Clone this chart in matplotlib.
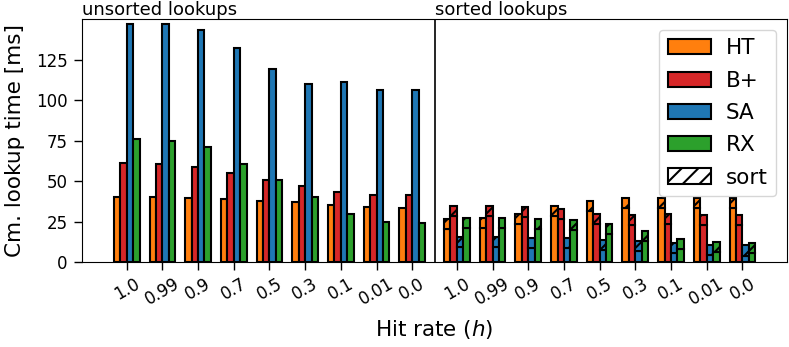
import numpy as np
import matplotlib
matplotlib.use("Agg")
import matplotlib.pyplot as plt
from matplotlib.patches import Patch

hit_rates = ["1.0", "0.99", "0.9", "0.7", "0.5", "0.3", "0.1", "0.01", "0.0"]
methods = ["HT", "B+", "SA", "RX"]
colors = ["#ff7f0e", "#d62728", "#1f77b4", "#2ca02c"]

# unsorted lookups: cumulative lookup time [ms]
unsorted = {
    "HT": [40.2, 40.2, 39.8, 39.0, 37.7, 36.9, 35.0, 34.0, 33.6],
    "B+": [61.3, 60.8, 58.8, 55.0, 50.5, 46.8, 43.1, 41.5, 41.5],
    "SA": [147.0, 147.0, 143.0, 132.2, 119.0, 110.0, 111.2, 106.2, 106.2],
    "RX": [75.7, 74.9, 70.8, 60.8, 50.5, 40.2, 29.9, 25.0, 24.1],
}
# sorted lookups: lookup part and sort part [ms]
sorted_lookup = {
    "HT": [20.6, 21.0, 23.5, 28.3, 31.4, 33.6, 33.4, 33.3, 33.2],
    "B+": [28.5, 28.5, 27.8, 26.8, 23.3, 23.1, 23.7, 23.1, 23.1],
    "SA": [9.3, 9.3, 8.9, 8.5, 7.6, 6.6, 5.8, 4.3, 4.0],
    "RX": [21.0, 21.0, 20.6, 19.6, 17.3, 13.2, 8.3, 6.3, 5.5],
}
sort_time = [6.2, 6.2, 6.2, 6.2, 6.2, 6.2, 6.2, 6.2, 6.2]

plt.rcParams["hatch.linewidth"] = 1.5

fig = plt.figure(figsize=(7.89, 3.47), dpi=100)
ax = fig.add_axes([0.104, 0.245, 0.8935, 0.70])

n = len(hit_rates)
x_uns = np.arange(n)
x_srt = np.arange(n) + n + 0.25
w = 0.18
offsets = (np.arange(4) - 1.5) * w

for m, c, off in zip(methods, colors, offsets):
    ax.bar(x_uns + off, unsorted[m], w, color=c, edgecolor="black", linewidth=1.5)
    ax.bar(x_srt + off, sorted_lookup[m], w, color=c, edgecolor="black", linewidth=1.5)
    ax.bar(x_srt + off, sort_time, w, bottom=sorted_lookup[m], color=c,
           edgecolor="black", linewidth=1.5, hatch="//")

sep = n - 1 + 0.625
ax.axvline(sep, color="black", linewidth=1.2)

ax.set_xlim(-1.25, 2 * n - 1 + 0.25 + 1.25)
ax.set_ylim(0, 150)
ax.set_yticks([0, 25, 50, 75, 100, 125])
ax.set_xticks(np.concatenate([x_uns, x_srt]))
ax.set_xticklabels(hit_rates + hit_rates, rotation=30, ha="center")
ax.tick_params(labelsize=12, length=5.5, width=1.0)
ax.tick_params(axis="y", pad=5)

ax.set_ylabel("Cm. lookup time [ms]", fontsize=15.5, labelpad=8)
ax.set_xlabel("Hit rate ($h$)", fontsize=15.5, labelpad=7)

ax.text(0, 1.0, "unsorted lookups", transform=ax.transAxes, fontsize=13,
        ha="left", va="bottom")
ax.text(sep, 1.0, "sorted lookups", transform=ax.get_xaxis_transform(),
        fontsize=13, ha="left", va="bottom")

handles = [Patch(facecolor=c, edgecolor="black", linewidth=1.5, label=m)
           for m, c in zip(methods, colors)]
handles.append(Patch(facecolor="white", edgecolor="black", linewidth=1.5,
                     hatch="//", label="sort"))
ax.legend(handles=handles, loc="upper right", fontsize=15.5, handlelength=2.0,
          handletextpad=0.7, labelspacing=0.57)

fig.savefig("out.png", dpi=100)
